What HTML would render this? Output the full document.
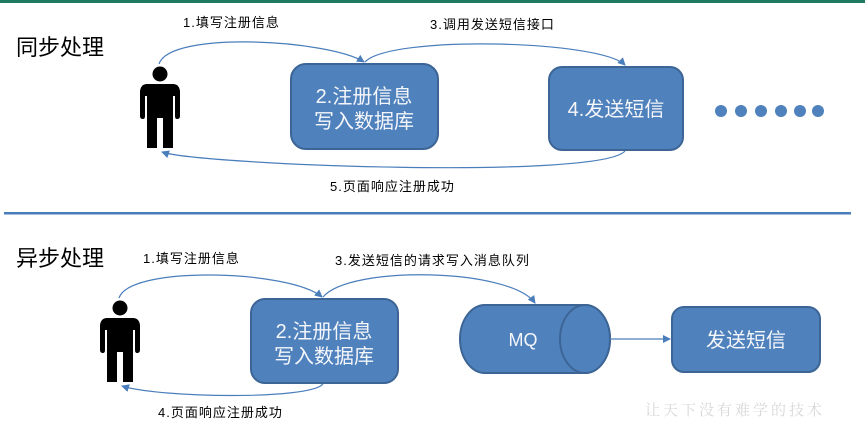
<!DOCTYPE html>
<html><head><meta charset="utf-8"><style>
html,body{margin:0;padding:0;background:#fff;}
svg{display:block;font-family:"Liberation Sans","Noto Sans CJK SC",sans-serif;}
</style></head><body>
<svg width="865" height="432" viewBox="0 0 865 432" xmlns="http://www.w3.org/2000/svg">
<defs>
<marker id="a" markerWidth="8" markerHeight="8" refX="7" refY="4" orient="auto" markerUnits="userSpaceOnUse">
<path d="M0,0 L8,4 L0,8 z" fill="#4a7ebb"/></marker>
<g id="p">
<circle cx="0" cy="0" r="7.5" fill="#000"/>
<path d="M-13,10 L13,10 Q19,10 20,17 L20,42 Q20,45 17,45 Q15,45 15,42 L15,22 L13,22 L13,74 L3,74 L3,44 L-3,44 L-3,74 L-13,74 L-13,22 L-15,22 L-15,42 Q-15,45 -17,45 Q-20,45 -20,42 L-20,17 Q-19,10 -13,10 z" fill="#000"/>
</g>
</defs>
<rect x="0" y="0" width="865" height="3" fill="#1e7a60"/>
<rect x="4" y="212" width="847" height="2.5" fill="#4a7ebb"/>

<g fill="#000" font-size="22"><text x="16" y="55">同步处理</text><text x="16" y="266">异步处理</text></g>

<g font-size="13" fill="#000" letter-spacing="1">
<text x="183" y="27">1.填写注册信息</text>
<text x="430" y="29">3.调用发送短信接口</text>
<text x="330" y="191">5.页面响应注册成功</text>
<text x="143" y="263">1.填写注册信息</text>
<text x="335" y="265">3.发送短信的请求写入消息队列</text>
<text x="158" y="417">4.页面响应注册成功</text>
</g>

<use href="#p" x="160" y="74"/>
<use href="#p" x="120" y="308"/>

<g fill="#4f81bd" stroke="#3c6595" stroke-width="2">
<rect x="291" y="64" width="147" height="85" rx="15"/>
<rect x="549" y="67" width="134" height="83" rx="13"/>
<rect x="251" y="299" width="147" height="84" rx="14"/>
<rect x="672" y="307" width="148" height="65" rx="12"/>
<path d="M485,305 L585,305 A25,34 0 0 1 585,373 L485,373 A25,34 0 0 1 485,305 z"/>
<ellipse cx="585" cy="339" rx="25" ry="34"/>
</g>
<g fill="#f4f6fa" font-size="20" text-anchor="middle">
<text x="364" y="103">2.注册信息</text><text x="364" y="128">写入数据库</text>
<text x="616" y="116">4.发送短信</text>
<text x="324" y="338">2.注册信息</text><text x="324" y="363">写入数据库</text>
<text x="746" y="347">发送短信</text>
<text x="523" y="346" font-size="18">MQ</text>
</g>

<g fill="#4f81bd">
<circle cx="721" cy="111" r="6"/><circle cx="741" cy="111" r="6"/><circle cx="761" cy="111" r="6"/>
<circle cx="781" cy="111" r="6"/><circle cx="800" cy="111" r="6"/><circle cx="818" cy="111" r="6"/>
</g>

<g fill="none" stroke="#4a7ebb" stroke-width="1.2" marker-end="url(#a)">
<path d="M159,64 C170,30 330,40 364,62"/>
<path d="M365,62 C390,35 600,40 625,65"/>
<path d="M625,151 C600,180 200,165 162,152"/>
<path d="M119,298 C130,265 290,270 322,297"/>
<path d="M323,297 C350,265 510,268 535,303"/>
<path d="M323,384 C310,400 160,398 122,386"/>
<path d="M610,339 L670,339"/>
</g>

<text x="645" y="415" font-size="15" fill="#d8d8d8" font-family="'Noto Serif CJK SC',serif" letter-spacing="3">让天下没有难学的技术</text>
</svg>
</body></html>
